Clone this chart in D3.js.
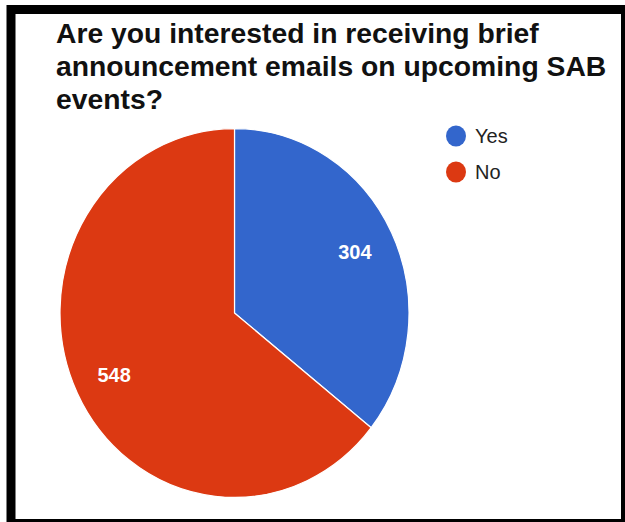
<!DOCTYPE html>
<html>
<head>
<meta charset="utf-8">
<script src="https://cdn.jsdelivr.net/npm/d3@7"></script>
<style>
html,body{margin:0;padding:0;background:#fff;}
svg{display:block;}
</style>
</head>
<body>
<svg id="chart" width="625" height="522"></svg>
<script>
const titleLines = ["Are you interested in receiving brief", "announcement emails on upcoming SAB", "events?"];
const categories = ["Yes", "No"];
const values = [304, 548];
const colors = ["#3366CC", "#DC3912"];

const svg = d3.select("#chart");
const font = "'Liberation Sans', Arial, Helvetica, sans-serif";

// frame
svg.append("rect").attr("x", 11).attr("y", 9.5).attr("width", 614.5).attr("height", 514)
  .attr("fill", "none").attr("stroke", "#000").attr("stroke-width", 9);

// title
const title = svg.append("text").attr("font-family", font).attr("font-weight", "bold")
  .attr("font-size", 28.3).attr("fill", "#111");
titleLines.forEach((t, i) => {
  title.append("tspan").attr("x", 56).attr("y", 43 + i * 33).text(t);
});

// pie
const cx = 234.5, cy = 313, r = 174.5, sy = 1.057;
const pie = d3.pie().sort(null).value(d => d.v);
const arcs = pie(categories.map((c, i) => ({c, v: values[i], col: colors[i]})));
const arc = d3.arc().innerRadius(0).outerRadius(r);
const labelArc = d3.arc().innerRadius(r * 0.766).outerRadius(r * 0.766);
const g = svg.append("g").attr("transform", `translate(${cx},${cy}) scale(1,${sy})`);
g.selectAll("path").data(arcs).join("path")
  .attr("d", arc).attr("fill", d => d.data.col)
  .attr("stroke", "#fff").attr("stroke-width", 1.2).attr("stroke-linejoin", "round");
g.selectAll("text").data(arcs).join("text")
  .attr("transform", d => `translate(${labelArc.centroid(d)})`)
  .attr("text-anchor", "middle").attr("dy", "0.36em")
  .attr("font-family", font).attr("font-weight", "bold").attr("font-size", 20)
  .attr("fill", "#fff").text(d => d.data.v);

// legend
const leg = svg.append("g");
const items = leg.selectAll("g").data(categories).join("g")
  .attr("transform", (d, i) => `translate(456,${136 + i * 36})`);
items.append("ellipse").attr("rx", 10).attr("ry", 10.5).attr("fill", (d, i) => colors[i]);
items.append("text").attr("x", 19).attr("dy", "0.36em")
  .attr("font-family", font).attr("font-size", 20).attr("fill", "#222").text(d => d);
</script>
</body>
</html>
